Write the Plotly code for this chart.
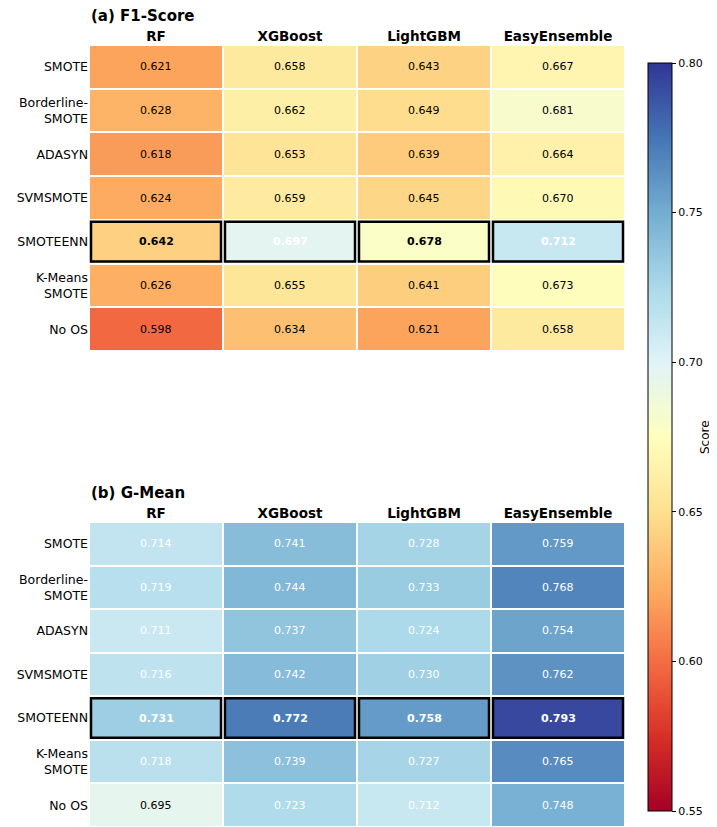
import plotly.graph_objects as go

methods = ["SMOTE", "Borderline-<br>SMOTE", "ADASYN", "SVMSMOTE", "SMOTEENN", "K-Means<br>SMOTE", "No OS"]
models = ["RF", "XGBoost", "LightGBM", "EasyEnsemble"]

f1_rf = [0.621, 0.628, 0.618, 0.624, 0.642, 0.626, 0.598]
f1_xgb = [0.658, 0.662, 0.653, 0.659, 0.697, 0.655, 0.634]
f1_lgbm = [0.643, 0.649, 0.639, 0.645, 0.678, 0.641, 0.621]
f1_ee = [0.667, 0.681, 0.664, 0.670, 0.712, 0.673, 0.658]

gm_rf = [0.714, 0.719, 0.711, 0.716, 0.731, 0.718, 0.695]
gm_xgb = [0.741, 0.744, 0.737, 0.742, 0.772, 0.739, 0.723]
gm_lgbm = [0.728, 0.733, 0.724, 0.730, 0.758, 0.727, 0.712]
gm_ee = [0.759, 0.768, 0.754, 0.762, 0.793, 0.765, 0.748]

highlight = "SMOTEENN"
panel_titles = ["(a) F1-Score", "(b) G-Mean"]
colorbar_title = "Score"
zmin, zmax = 0.55, 0.80
white_threshold = 0.696

FONT = "DejaVu Sans"
OFF = 8  # page body margin
W, H = 717 - OFF, 827 - OFF

def rows_of(cols):
    return [[c[i] for c in cols] for i in range(len(methods))]

f1 = rows_of([f1_rf, f1_xgb, f1_lgbm, f1_ee])
gm = rows_of([gm_rf, gm_xgb, gm_lgbm, gm_ee])

fig = go.Figure()

# pixel layout (in page coordinates, converted by OFF)
x_left, x_right = 89 - OFF, 625 - OFF
plot_top, plot_bottom = 45 - OFF, 827 - OFF
panels_px = [(45 - OFF, 351 - OFF), (522 - OFF, 827 - OFF)]
PW = x_right - x_left
PH = plot_bottom - plot_top
cb_left, cb_top, cb_bottom = 648 - OFF, 63 - OFF, 811 - OFF
cb_title_x, cb_title_y = 705 - OFF, 437 - OFF

def ydom(top, bottom):
    return [max(0.0, 1 - (bottom - plot_top) / PH), min(1.0, 1 - (top - plot_top) / PH)]

annotations = []
shapes = []
for p, (z, (ptop, pbot)) in enumerate(zip([f1, gm], panels_px)):
    xa = "x" if p == 0 else "x2"
    ya = "y" if p == 0 else "y2"
    fig.add_trace(go.Heatmap(
        z=z, x=models, y=methods,
        colorscale="RdYlBu", zmin=zmin, zmax=zmax,
        xgap=2, ygap=2,
        xaxis=xa, yaxis=ya,
        showscale=(p == 0),
        hoverinfo="skip",
        colorbar=dict(
            x=(cb_left - x_left) / PW, xanchor="left", thickness=24, thicknessmode="pixels",
            y=1 - (cb_top - plot_top) / PH, yanchor="top",
            len=(cb_bottom - cb_top) / PH, lenmode="fraction",
            xpad=0, ypad=0,
            outlinewidth=1, outlinecolor="black",
            tickvals=[0.55, 0.60, 0.65, 0.70, 0.75, 0.80],
            ticktext=["0.55", "0.60", "0.65", "0.70", "0.75", "0.80"],
            ticks="outside", ticklen=4, tickcolor="black",
            tickfont=dict(family=FONT, size=11, color="black"),
        ),
    ))
    for i, m in enumerate(methods):
        for j, mod in enumerate(models):
            v = z[i][j]
            bold = (m == highlight)
            txt = f"{v:.3f}"
            if bold:
                txt = f"<b>{txt}</b>"
            annotations.append(dict(
                x=j, y=i, xref=xa, yref=ya, text=txt, showarrow=False,
                font=dict(family=FONT, size=11, color="white" if v > white_threshold else "black"),
            ))
            if bold:
                dx = 2 / (PW / len(models))
                dy = 2 / ((pbot - ptop) / len(methods))
                shapes.append(dict(
                    type="rect", xref=xa, yref=ya,
                    x0=j - 0.5 + dx, x1=j + 0.5 - dx, y0=i - 0.5 + dy, y1=i + 0.5 - dy,
                    line=dict(color="black", width=2.5), fillcolor="rgba(0,0,0,0)",
                ))
    annotations.append(dict(
        x=0, y=1 - (ptop - 29 - plot_top) / PH, xref="paper", yref="paper",
        xanchor="left", yanchor="middle", showarrow=False,
        text=f"<b>{panel_titles[p]}</b>",
        font=dict(family=FONT, size=15, color="black"),
    ))

annotations.append(dict(
    x=(cb_title_x - x_left) / PW, y=1 - (cb_title_y - plot_top) / PH,
    xref="paper", yref="paper", xanchor="center", yanchor="middle",
    showarrow=False, textangle=-90, text=colorbar_title, borderpad=0,
    font=dict(family=FONT, size=12, color="black"),
))

axis_common = dict(showgrid=False, zeroline=False, showline=False, ticks="", automargin=False)
fig.update_layout(
    width=W, height=H,
    margin=dict(l=x_left, r=W - x_right, t=plot_top, b=H - plot_bottom, autoexpand=False),
    paper_bgcolor="white", plot_bgcolor="white",
    xaxis=dict(domain=[0, 1], anchor="y", side="top",
               tickfont=dict(family=FONT, size=13.5, color="black"),
               tickvals=models, ticktext=[f"<b>{m}</b>" for m in models], **axis_common),
    yaxis=dict(domain=ydom(*panels_px[0]), anchor="x", autorange="reversed",
               tickfont=dict(family=FONT, size=12.5, color="black"), **axis_common),
    xaxis2=dict(domain=[0, 1], anchor="y2", side="top",
                tickfont=dict(family=FONT, size=13.5, color="black"),
                tickvals=models, ticktext=[f"<b>{m}</b>" for m in models], **axis_common),
    yaxis2=dict(domain=ydom(*panels_px[1]), anchor="x2", autorange="reversed",
                tickfont=dict(family=FONT, size=12.5, color="black"), **axis_common),
    annotations=annotations,
    shapes=shapes,
    font=dict(family=FONT),
)

fig.write_html("out.html")
